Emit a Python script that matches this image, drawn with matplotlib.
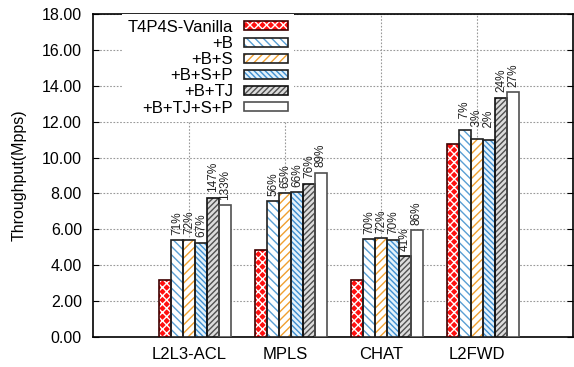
import matplotlib
matplotlib.use('Agg')
import matplotlib.pyplot as plt
from matplotlib.patches import Patch
from matplotlib.legend_handler import HandlerTuple
import numpy as np

plt.rcParams['font.family'] = ['Liberation Sans', 'DejaVu Sans']
plt.rcParams['hatch.linewidth'] = 1.0

# data
categories = ['L2L3-ACL', 'MPLS', 'CHAT', 'L2FWD']
series = ['T4P4S-Vanilla', '+B', '+B+S', '+B+S+P', '+B+TJ', '+B+TJ+S+P']
vanilla = [3.15, 4.85, 3.20, 10.76]
plus_b = [5.39, 7.56, 5.44, 11.51]
plus_bs = [5.43, 8.01, 5.49, 11.06]
plus_bsp = [5.26, 8.06, 5.43, 11.00]
plus_btj = [7.77, 8.54, 4.50, 13.34]
plus_all = [7.34, 9.14, 5.94, 13.64]
gains = [
    [None, None, None, None],
    ['71%', '56%', '70%', '7%'],
    ['72%', '65%', '72%', '3%'],
    ['67%', '66%', '70%', '2%'],
    ['147%', '76%', '41%', '24%'],
    ['133%', '89%', '86%', '27%'],
]
yticks = [0, 2, 4, 6, 8, 10, 12, 14, 16, 18]

values = [vanilla, plus_b, plus_bs, plus_bsp, plus_btj, plus_all]
# (face, hatch, hatch colour, outline)
styles = [
    ('#ff1010', 'xxxx', 'white', '#400000'),
    ('white', '\\\\\\\\', '#5a9fd4', '#202020'),
    ('white', '////', '#f0a030', '#202020'),
    ('#e4f2fb', '\\\\\\\\\\\\', '#3f8fd0', '#202020'),
    ('#dcdcdc', '//////', '#505050', '#101010'),
    ('white', '', 'white', '#505050'),
]

fig, ax = plt.subplots(figsize=(5.74, 3.67), dpi=100)
fig.subplots_adjust(left=93/574, right=573/574, top=1-14/367, bottom=1-337/367)

x = np.arange(len(categories))
w = 1/8
handles = []
for j, (vals, st) in enumerate(zip(values, styles)):
    face, hatch, hcol, edge = st
    pos = x + (j - 2) * w
    ax.bar(pos, vals, w, color=face, hatch=hatch, edgecolor=hcol, linewidth=0, zorder=3)
    ax.bar(pos, vals, w, color='none', edgecolor=edge, linewidth=1.2, zorder=4)
    handles.append((Patch(facecolor=face, hatch=hatch, edgecolor=hcol, linewidth=0),
                    Patch(facecolor='none', edgecolor=edge, linewidth=1.2)))
    for p, v, g in zip(pos, vals, gains[j]):
        if g is None:
            continue
        lab = g if len(g) > 2 else '  ' + g
        ax.annotate(lab, (p, v), xytext=(0, 4), textcoords='offset points',
                    rotation=90, ha='center', va='bottom', fontsize=8.5, color='#202020', zorder=5)

ax.set_xlim(-1, 4)
ax.set_ylim(0, 18)
ax.set_xticks(x)
ax.set_xticklabels(categories, fontsize=12)
ax.set_yticks(yticks)
ax.set_yticklabels(['%.2f' % t for t in yticks], fontsize=11.5)
ax.tick_params(axis='x', length=0, pad=7)
ax.tick_params(axis='y', direction='in', length=4, pad=8, right=True, width=0.8)
ax.set_ylabel('Throughput(Mpps)', fontsize=11.5, labelpad=11)
ax.grid(True, linestyle=(0, (1.5, 1.5)), color='#999999', linewidth=0.8, zorder=0)
ax.set_axisbelow(True)
for s in ax.spines.values():
    s.set_linewidth(1.2)

leg = ax.legend(handles, series, handler_map={tuple: HandlerTuple(ndivide=1, pad=0)},
                loc='upper right', bbox_to_anchor=((294 - 93) / 480, 1.0),
                borderaxespad=0, markerfirst=False, fontsize=12,
                handlelength=2.65, handleheight=0.45, labelspacing=0.07,
                handletextpad=0.65, borderpad=0.35, frameon=True, fancybox=False)
leg.get_frame().set_edgecolor('none')
leg.get_frame().set_facecolor('white')
leg.get_frame().set_alpha(1)
leg.set_zorder(6)

plt.savefig('out.png', dpi=100)
